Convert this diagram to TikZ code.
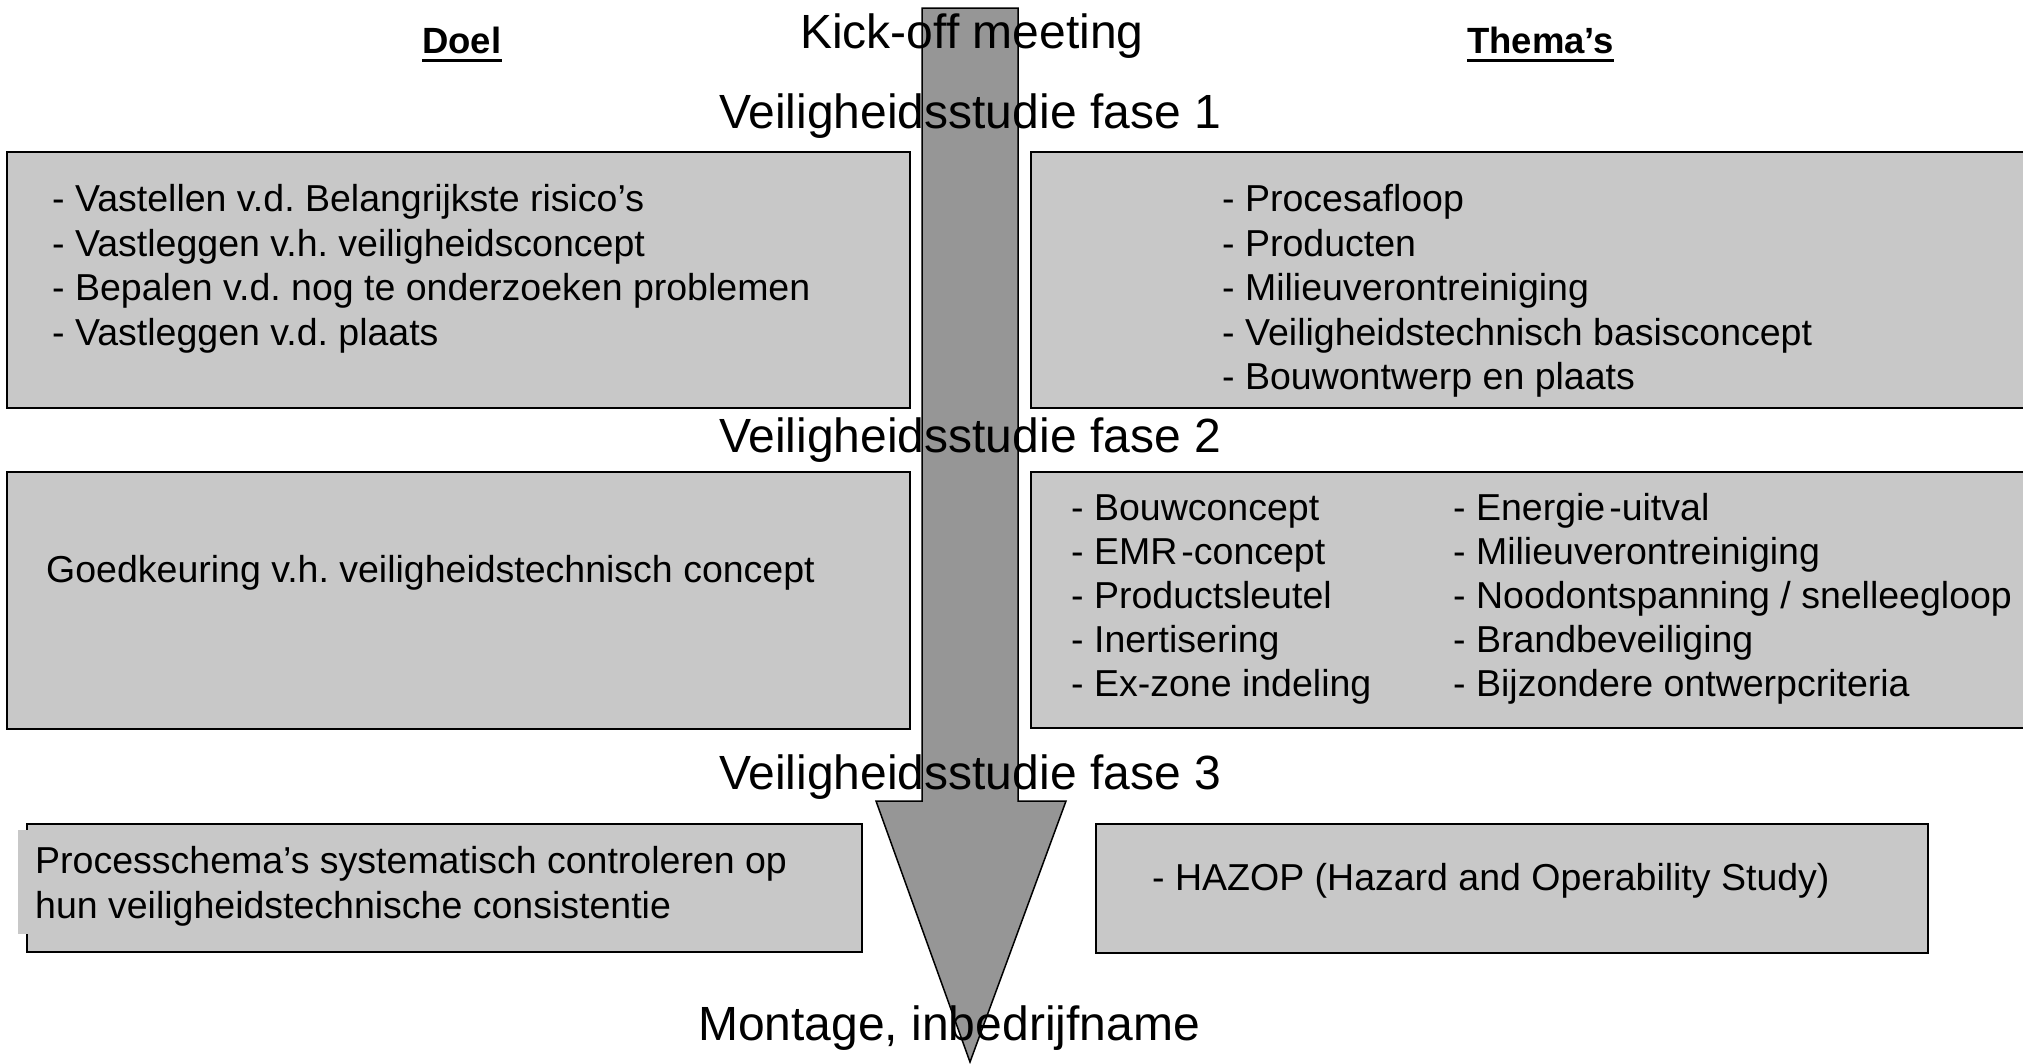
\documentclass[tikz,border=0pt]{standalone}
\usepackage{fontspec}
\setmainfont{Liberation Sans}
\definecolor{panelgray}{RGB}{200,200,200}
\definecolor{arrowgray}{RGB}{150,150,150}
\frenchspacing

\begin{document}
\begin{tikzpicture}[x=1pt,y=-1pt,
  panel/.style={draw=black, line width=2pt, fill=panelgray, anchor=north west, inner sep=0pt, outer sep=0pt},
  phase/.style={anchor=base west, inner sep=0pt, font=\fontsize{48}{56}\selectfont},
  item/.style={anchor=base west, inner sep=0pt, font=\fontsize{37.5}{45}\selectfont},
  heading/.style={anchor=base west, inner sep=0pt, font=\fontsize{36.5}{44}\selectfont\bfseries},
  flow/.style={draw=black, line width=1.5pt, fill=arrowgray, line join=miter}
]
\useasboundingbox (0,0) rectangle (2023,1063);
\clip (0,0) rectangle (2023,1063);

% the process arrow running through all phases
\draw[flow] (922,8) -- (1018,8) -- (1018,801) -- (1066,801) -- (970,1062)
  -- (876,801) -- (922,801) -- cycle;

% column headings
\node[heading] (doel) at (422,53) {Doel};
\node[heading] (themas) at (1467,53) {Thema’s};
\draw[line width=3.5pt] ([yshift=-7.3pt]doel.base west) -- ([yshift=-7.3pt]doel.base east);
\draw[line width=3.5pt] ([yshift=-7.3pt]themas.base west) -- ([yshift=-7.3pt]themas.base east);

% panels
\node[panel, minimum width=903pt, minimum height=256pt] (goal1) at (7,152) {};
\node[panel, minimum width=1010pt, minimum height=256pt] (theme1) at (1031,152) {};
\node[panel, minimum width=903pt, minimum height=257pt] (goal2) at (7,472) {};
\node[panel, minimum width=1010pt, minimum height=256pt] (theme2) at (1031,472) {};
\node[panel, minimum width=835pt, minimum height=128pt] (goal3) at (27,824) {};
\node[panel, minimum width=832pt, minimum height=129pt] (theme3) at (1096,824) {};
% text frame of the last goal panel, lying over its left border
\fill[panelgray] (18,830) rectangle (700,934);

% phase labels
\node[phase] (kick) at (800,48) {Kick-off meeting};
\node[phase] (fase1) at (719,128) {Veiligheidsstudie fase 1};
\node[phase] (fase2) at (719,452) {Veiligheidsstudie fase 2};
\node[phase] (fase3) at (719,789) {Veiligheidsstudie fase 3};
\node[phase] (montage) at (698,1040) {Montage, inbedrijfname};

% phase 1
\foreach \t [count=\i] in {- Vastellen v.d. Belangrijkste risico’s,
    - Vastleggen v.h. veiligheidsconcept,
    - Bepalen v.d. nog te onderzoeken problemen,
    - Vastleggen v.d. plaats}
  \node[item] (gA\i) at (52,{211.7+44.5*(\i-1)}) {\t};
\foreach \t [count=\i] in {- Procesafloop, - Producten, - Milieuverontreiniging,
    - Veiligheidstechnisch basisconcept, - Bouwontwerp en plaats}
  \node[item] (tA\i) at (1222,{211.5+44.6*(\i-1)}) {\t};

% phase 2
\node[item] (gB1) at (46,582) {Goedkeuring v.h. veiligheidstechnisch concept};
\foreach \t [count=\i] in {- Bouwconcept, - EMR\kern4pt -concept, - Productsleutel,
    - Inertisering, - Ex-zone indeling}
  \node[item] (tB\i) at (1071,{520+44.2*(\i-1)}) {\t};
\foreach \t [count=\i] in {- Energie\kern4pt -uitval, - Milieuverontreiniging,
    - Noodontspanning / snelleegloop, - Brandbeveiliging,
    - Bijzondere ontwerpcriteria}
  \node[item] (tC\i) at (1453,{520+44.2*(\i-1)}) {\t};

% phase 3
\node[item] (gC1) at (35,873) {Processchema’s systematisch controleren op};
\node[item] (gC2) at (35,918) {hun veiligheidstechnische consistentie};
\node[item] (tD1) at (1152,890) {- HAZOP (Hazard and Operability Study)};
\end{tikzpicture}
\end{document}
